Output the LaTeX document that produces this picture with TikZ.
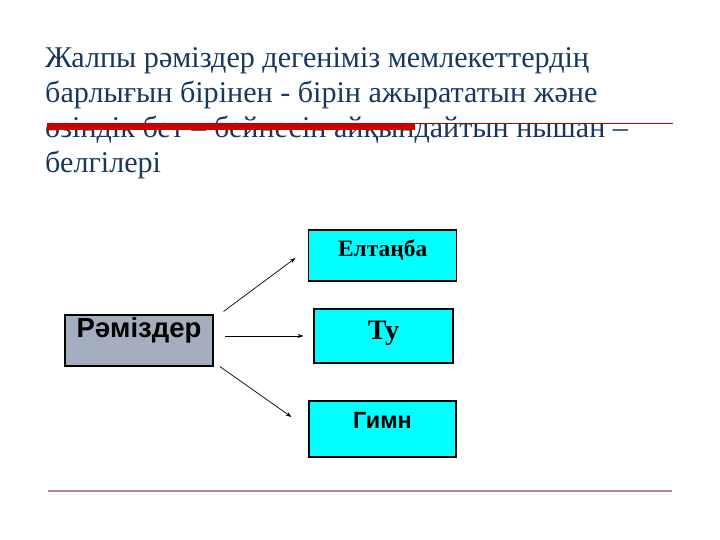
\documentclass[tikz,border=0pt]{standalone}
\usepackage{fontspec}
\setmainfont{Liberation Serif}
\newfontfamily\arialfont{Liberation Sans}
\usepackage{tikz}
\usetikzlibrary{arrows.meta}
\definecolor{titleblue}{RGB}{23,55,94}
\definecolor{barred}{RGB}{204,0,0}
\definecolor{linered}{RGB}{192,0,0}
\definecolor{footline}{RGB}{184,138,140}
\definecolor{remgray}{RGB}{165,174,190}
\definecolor{boxcyan}{RGB}{0,255,255}

\begin{document}
\begin{tikzpicture}[x=0.03cm,y=-0.03cm,
		box/.style={draw=black, line width=0.9pt, inner sep=0pt, text height=0.5cm},
		arr/.style={-{Stealth[length=5pt,width=3.5pt]}, line width=0.6pt}]
			\useasboundingbox (0,0) rectangle (720,540);
			\node[anchor=north west, inner sep=0pt, align=left, text=titleblue,
				font=\fontsize{25.7}{29.9}\selectfont] (title) at (45,47)
				{Жалпы рәміздер дегеніміз мемлекеттердің\\
				барлығын бірінен - бірін ажырататын және\\
				өзіндік бет – бейнесін айқындайтын нышан –\\
				белгілері};
			\draw[barred, line width=6pt] (47,126.5) -- (415,126.5);
			\draw[linered, line width=0.8pt] (47,123) -- (673,123);
			\node[box, fill=remgray, minimum width=4.44cm, minimum height=1.53cm, text depth=0.66cm,
				font=\arialfont\bfseries\fontsize{23.5}{28}\selectfont] (rem) at (139,340.5) {Рәміздер};
			\node[box, fill=boxcyan, minimum width=4.44cm, minimum height=1.53cm, text depth=0.42cm,
				font=\bfseries\fontsize{20}{24}\selectfont] (elt) at (382.7,255.5) {Елтаңба};
			\node[box, fill=boxcyan, minimum width=4.17cm, minimum height=1.62cm, text depth=0.3cm,
				font=\bfseries\fontsize{24}{28}\selectfont] (tu) at (383.5,336) {Ту};
			\node[box, fill=boxcyan, minimum width=4.41cm, minimum height=1.68cm, text depth=0.54cm,
				font=\arialfont\bfseries\fontsize{20}{24}\selectfont] (gimn) at (382.5,429) {Гимн};
			\draw[arr] ([xshift=0.3cm,yshift=0.09cm]rem.north east) -- ([xshift=-0.38cm,yshift=-0.075cm]elt.west);
			\draw[arr] ([xshift=0.34cm]rem.east |- tu.west) -- ([xshift=-0.3cm]tu.west);
			\draw[arr] ([xshift=0.19cm]rem.south east) -- ([xshift=-0.51cm,yshift=0.36cm]gimn.west);
			\draw[footline, line width=1.7pt] (48,491) -- (672,491);
		\end{tikzpicture}
\end{document}
